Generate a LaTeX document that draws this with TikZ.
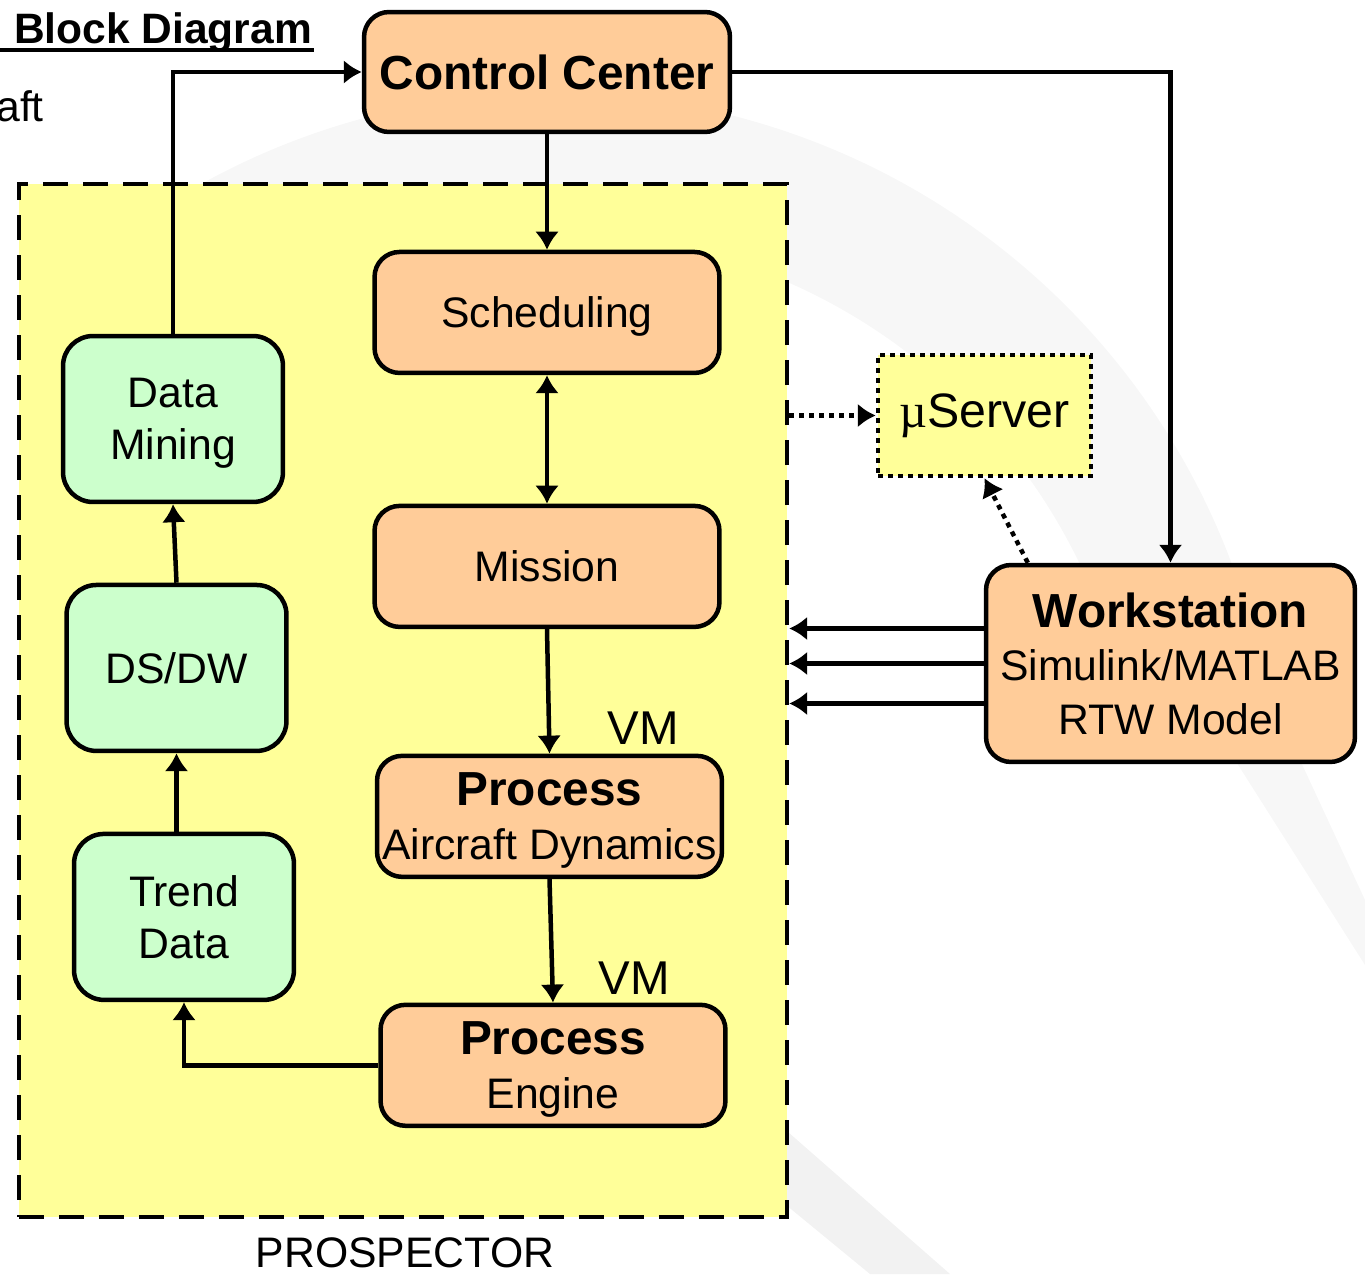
\documentclass[tikz,border=0pt]{standalone}
\usepackage{fontspec}
\setmainfont{Liberation Sans}
\newfontfamily\muserif{Liberation Serif}
\usepackage{xcolor}
\usetikzlibrary{calc}
\usetikzlibrary{arrows.meta}
\usetikzlibrary{positioning}

\definecolor{peach}{HTML}{FFCC99}
\definecolor{mint}{HTML}{CCFFCC}
\definecolor{lemon}{HTML}{FFFF99}

\newcommand{\boldline}[1]{{\bfseries\fontsize{27.2}{31}\selectfont #1}}

\begin{document}
\begin{tikzpicture}[x=0.02cm, y=-0.02cm,
    font=\fontsize{24.3}{30.6}\selectfont,
    line width=0.09cm,
    >={Latex[length=0.36cm,width=0.48cm]},
    orangebox/.style={rectangle, rounded corners=0.5cm, draw=black, fill=peach, align=center, inner sep=1pt, text depth=0pt},
    greenbox/.style={rectangle, rounded corners=0.6cm, draw=black, fill=mint, align=center, text depth=0pt, minimum width=4.4cm, minimum height=3.32cm},
    stagebox/.style={orangebox, minimum width=6.9cm, minimum height=2.42cm},
    dotline/.style={dash pattern=on 0.1cm off 0.1cm},
    plainlabel/.style={inner sep=0pt}]

    \useasboundingbox (0,0) rectangle (1365,1274);

    % faint watermark behind the diagram
    \begin{scope}[x=1cm, y=1cm]
        \fill[gray!6] (11.06,-16.36) ++(15:14.5) arc[start angle=15, end angle=128, radius=14.5]
            -- ($(11.06,-16.36)+(128:11.7)$) arc[start angle=128, end angle=15, radius=11.7] -- cycle;
    \end{scope}
    \fill[gray!10] (780,1125) -- (780,1200) -- (870,1274) -- (950,1274) -- cycle;
    \fill[gray!6] (1235,760) -- (1300,760) -- (1365,900) -- (1365,965) -- cycle;

    % PROSPECTOR area
    \node [rectangle, draw=black, fill=lemon, dash pattern=on 0.5cm off 0.3cm, minimum width=15.36cm, minimum height=20.66cm] (prosp) at (403,700.5) {};
    \node [plainlabel, anchor=base] (prosplabel) at (405,1267) {PROSPECTOR};

    \node [plainlabel, anchor=base west] (title) at (12,44) {\bfseries\fontsize{24.2}{28}\selectfont Block Diagram};
    \coordinate (ulstart) at (0,50);
    \draw [line width=0.07cm] (ulstart) -- (ulstart -| title.east);
    \node [plainlabel, anchor=base east] (aft) at (46,121) {aft};

    \node [orangebox, minimum width=7.32cm, minimum height=2.4cm] (ctrl) at (547,72) {\boldline{Control Center}};
    \node [stagebox, below=2.31cm of ctrl] (sched) {Scheduling};
    \node [stagebox, below=2.57cm of sched] (mission) {Mission};
    \node [stagebox, below=2.49cm of mission, xshift=0.05cm] (procad) {\boldline{Process}\\Aircraft Dynamics};
    \node [stagebox, below=2.47cm of procad, xshift=0.07cm] (proceng) {\boldline{Process}\\Engine};
    \node [plainlabel, anchor=base, font=\fontsize{27}{30}\selectfont] (vmad) at (643,744) {VM};
    \node [plainlabel, anchor=base, font=\fontsize{27}{30}\selectfont] (vmeng) at (634,994) {VM};

    \node [greenbox] (mining) at (173,419) {Data\\[-1pt]Mining};
    \node [greenbox, below=1.57cm of mining, xshift=0.07cm] (dsdw) {DS/DW};
    \node [greenbox, below=1.57cm of dsdw, xshift=0.15cm] (trend) {Trend\\[-1pt]Data};

    \node [rectangle, draw=black, fill=lemon, dotline, font=\fontsize{27.5}{30}\selectfont, minimum width=4.26cm, minimum height=2.42cm] (userver) at (984.5,415.5) {{\muserif µ}Server};
    \node [orangebox, minimum width=7.38cm, minimum height=3.94cm] (work) at (1170.5,663.5) {\boldline{Workstation}\\Simulink/MATLAB\\RTW Model};

    % connectors
    \draw [->] (mining.north) |- (ctrl.west);
    \draw [->] (ctrl.east) -| (work.north);
    \draw [->] (ctrl.south) -- (sched.north);
    \draw [<->] (sched.south) -- (mission.north);
    \draw [->] (mission.south) -- (procad.north);
    \draw [->] (procad.south) -- (proceng.north);
    \draw [->] (proceng.west) -| (trend.south);
    \draw [->] (trend.north -| dsdw.south) -- (dsdw.south);
    \draw [->] (dsdw.north) -- (mining.south);
    \draw [->, dotline] (prosp.east |- userver.west) -- (userver.west);
    \draw [->, dotline] ([xshift=0.88cm]work.north west) -- (userver.south);
    \foreach \dy/\nm in {0.7cm/wa, 0cm/wb, -0.8cm/wc} {
        \coordinate (\nm) at ([yshift=\dy]work.west);
        \draw [->] (\nm) -- (\nm -| prosp.east);
    }
\end{tikzpicture}
\end{document}
